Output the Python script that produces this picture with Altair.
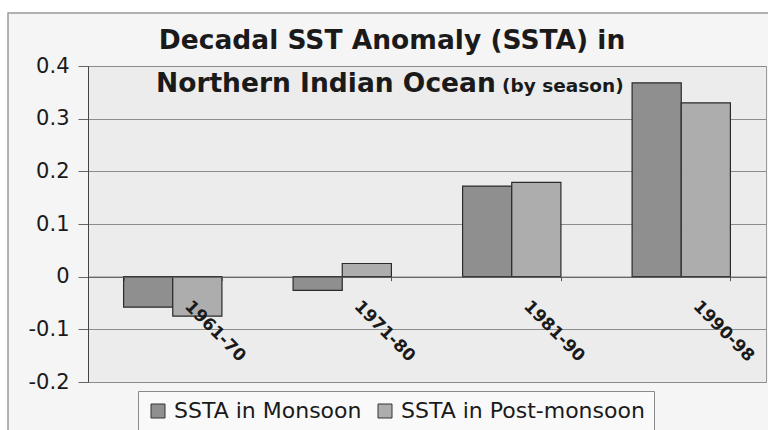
import altair as alt
import pandas as pd

# Decadal sea-surface temperature anomalies, northern Indian Ocean
periods = ["1961-70", "1971-80", "1981-90", "1990-98"]
monsoon = [-0.058, -0.026, 0.172, 0.368]
post_monsoon = [-0.075, 0.025, 0.179, 0.330]
series_names = ["SSTA in Monsoon", "SSTA in Post-monsoon"]
series_colors = ["#8f8f8f", "#adadad"]
y_ticks = [-0.2, -0.1, 0, 0.1, 0.2, 0.3, 0.4]

rows = []
for p, m, pm in zip(periods, monsoon, post_monsoon):
    rows.append({"period": p, "series": series_names[0], "value": m})
    rows.append({"period": p, "series": series_names[1], "value": pm})
df = pd.DataFrame(rows)

W, H = 678, 316
one = pd.DataFrame({"k": [0]})
FONT = "DejaVu Sans"
INK = "#1a1a1a"

# white margin around the framed chart area
left_strip = alt.Chart(one).mark_rect(color="white").encode(
    x=alt.value(-88), x2=alt.value(-80), y=alt.value(-66), y2=alt.value(H + 64)
)
top_strip = alt.Chart(one).mark_rect(color="white").encode(
    x=alt.value(-88), x2=alt.value(W + 2), y=alt.value(-66), y2=alt.value(-53)
)
frame = alt.Chart(one).mark_rect(fillOpacity=0, stroke="#9a9a9a", strokeWidth=1.5).encode(
    x=alt.value(-80), x2=alt.value(W + 40), y=alt.value(-53), y2=alt.value(H + 100)
)

bars = alt.Chart(df).mark_bar(stroke="#2b2b2b", strokeWidth=1.2).encode(
    x=alt.X(
        "period:N",
        sort=periods,
        scale=alt.Scale(paddingInner=0.42, paddingOuter=0.21),
        axis=alt.Axis(
            title=None,
            orient="bottom",
            offset=-H / 3,
            domainColor="#555555",
            domainWidth=1,
            tickBand="extent",
            tickSize=4,
            tickColor="#555555",
            labelAngle=45,
            labelAlign="left",
            labelBaseline="top",
            labelOffset=20,
            labelPadding=17,
            labelFont=FONT,
            labelFontWeight="bold",
            labelFontSize=17,
            labelColor=INK,
            labelOverlap=False,
            grid=False,
            zindex=1,
        ),
    ),
    xOffset=alt.XOffset("series:N", sort=series_names,
                        scale=alt.Scale(paddingInner=0, paddingOuter=0)),
    y=alt.Y(
        "value:Q",
        scale=alt.Scale(domain=[-0.2, 0.4], nice=False),
        axis=alt.Axis(
            title=None,
            values=y_ticks,
            labelExpr="datum.value == 0 ? '0' : (datum.value < 0 ? '-' : '') + format(abs(datum.value), '.1f')",
            grid=True,
            gridColor="#8c8c8c",
            gridWidth=1,
            domainColor="#444444",
            tickSize=10,
            tickColor="#666666",
            labelPadding=9,
            labelFont=FONT,
            labelFontSize=21,
            labelColor=INK,
        ),
    ),
    color=alt.Color(
        "series:N",
        sort=series_names,
        scale=alt.Scale(domain=series_names, range=series_colors),
        legend=alt.Legend(
            title=None,
            orient="none",
            legendX=50,
            legendY=325,
            direction="horizontal",
            symbolType="square",
            symbolSize=196,
            symbolStrokeColor="#333333",
            symbolStrokeWidth=1,
            labelFont=FONT,
            labelFontSize=22,
            labelColor=INK,
            labelOffset=5,
            labelLimit=400,
            columnPadding=12,
            padding=9,
            strokeColor="#8a8a8a",
            fillColor="#f9f9f9",
        ),
    ),
)

title1 = alt.Chart(one).mark_text(
    text="Decadal SST Anomaly (SSTA) in", font=FONT, fontWeight="bold",
    fontSize=26.5, align="center", baseline="alphabetic", color=INK
).encode(x=alt.value(304), y=alt.value(-17))
title2 = alt.Chart(one).mark_text(
    text="Northern Indian Ocean", font=FONT, fontWeight="bold",
    fontSize=26.5, align="left", baseline="alphabetic", color=INK
).encode(x=alt.value(68), y=alt.value(26))
title3 = alt.Chart(one).mark_text(
    text="(by season)", font=FONT, fontWeight="bold",
    fontSize=18.5, align="left", baseline="alphabetic", color=INK
).encode(x=alt.value(414), y=alt.value(26))

chart = alt.layer(
    left_strip, top_strip, frame, bars, title1, title2, title3
).properties(
    width=W,
    height=H,
    autosize=alt.AutoSizeParams(type="none"),
    padding={"left": 88, "top": 66, "right": 2, "bottom": 48},
    background="#f5f5f5",
).configure_view(fill="#ececec", stroke="#9a9a9a")

chart.save("out.html", embed_options={"renderer": "svg", "actions": False})
